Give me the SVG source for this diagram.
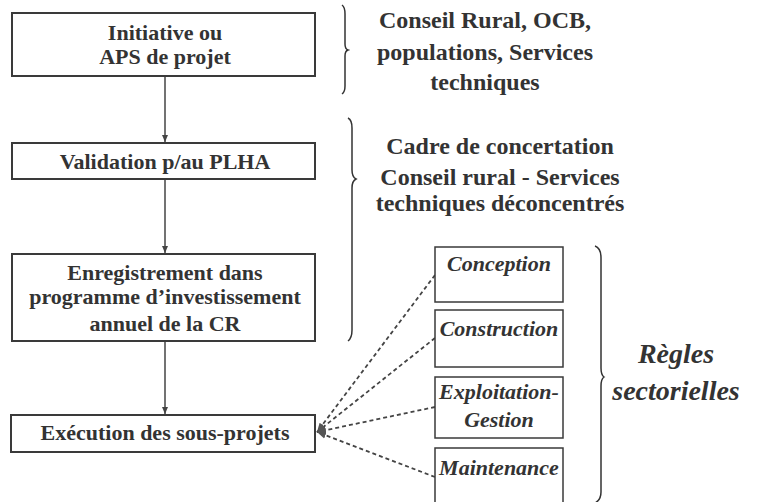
<svg xmlns="http://www.w3.org/2000/svg" width="758" height="502" viewBox="0 0 758 502">
<defs>
<style>
.box{fill:#fff;stroke:#3a3a3a;stroke-width:2}
.sbox{fill:#fff;stroke:#3a3a3a;stroke-width:1.5}
.t{font-family:"Liberation Serif","Times New Roman",serif;font-weight:bold;fill:#333;text-anchor:middle}
.m{font-size:22px}
.r{font-size:24px}
.s{font-size:22px}
.i{font-style:italic}
.ln{stroke:#444;stroke-width:1.5;fill:none}
.dl{stroke:#444;stroke-width:1.8;fill:none;stroke-dasharray:4 3}
.br{stroke:#333;stroke-width:1.5;fill:none}
</style>
<marker id="ah" markerWidth="8" markerHeight="8" refX="7" refY="4" orient="auto" markerUnits="userSpaceOnUse">
<path d="M0,1 L7,4 L0,7 Z" fill="#444"/>
</marker>
<marker id="dh" markerWidth="10" markerHeight="10" refX="9" refY="5" orient="auto" markerUnits="userSpaceOnUse">
<path d="M0,1.5 L9,5 L0,8.5 Z" fill="#555"/>
</marker>
</defs>
<rect width="758" height="502" fill="#fff"/>
<g id="connectors">
<line class="ln" x1="165" y1="76" x2="165" y2="142" marker-end="url(#ah)"/>
<line class="ln" x1="165" y1="179" x2="165" y2="253" marker-end="url(#ah)"/>
<line class="ln" x1="165" y1="341" x2="165" y2="414" marker-end="url(#ah)"/>
<line class="dl" x1="435" y1="275" x2="317" y2="432" marker-end="url(#dh)"/>
<line class="dl" x1="435" y1="338" x2="317" y2="432" marker-end="url(#dh)"/>
<line class="dl" x1="435" y1="407" x2="317" y2="432" marker-end="url(#dh)"/>
<line class="dl" x1="435" y1="477" x2="317" y2="432" marker-end="url(#dh)"/>
</g>
<g id="n1"><rect class="box" x="12" y="13" width="303" height="63"/>
<text class="t m" x="165" y="40">Initiative ou</text>
<text class="t m" x="165" y="64">APS de projet</text></g>
<g id="n2"><rect class="box" x="12" y="143" width="303" height="36"/>
<text class="t m" x="165" y="169">Validation p/au PLHA</text></g>
<g id="n3"><rect class="box" x="12" y="254" width="303" height="87"/>
<text class="t m" x="165" y="280">Enregistrement dans</text>
<text class="t m" x="165" y="304">programme d’investissement</text>
<text class="t m" x="165" y="331">annuel de la CR</text></g>
<g id="n4"><rect class="box" x="11" y="415" width="304" height="37"/>
<text class="t m" x="165" y="440">Exécution des sous-projets</text></g>
<g id="n5"><rect class="sbox" x="435" y="247" width="128" height="55"/>
<text class="t s i" x="499" y="271">Conception</text></g>
<g id="n6"><rect class="sbox" x="435" y="310" width="128" height="57"/>
<text class="t s i" x="499" y="336">Construction</text></g>
<g id="n7"><rect class="sbox" x="435" y="377" width="128" height="61"/>
<text class="t s i" x="499" y="399">Exploitation-</text>
<text class="t s i" x="499" y="427">Gestion</text></g>
<g id="n8"><rect class="sbox" x="435" y="448" width="128" height="60"/>
<text class="t s i" x="499" y="475">Maintenance</text></g>
<g id="braces">
<path class="br" d="M342,5 Q345,7 345,14 L345,44 Q345,49 348,50 Q345,51 345,56 L345,86 Q345,92 342,94"/>
<path class="br" d="M348,118 Q352,120 352,128 L352,170 Q352,177 356,179 Q352,181 352,188 L352,330 Q352,338 348,341"/>
<path class="br" d="M595,246 Q601,248 601,258 L601,368 Q601,375 604,377 Q601,379 601,386 L601,492 Q601,500 595,503"/>
</g>
<g id="labels">
<text class="t r" x="485" y="28">Conseil Rural, OCB,</text>
<text class="t r" x="485" y="60">populations, Services</text>
<text class="t r" x="485" y="90">techniques</text>
<text class="t r" x="500" y="154">Cadre de concertation</text>
<text class="t r" x="500" y="185">Conseil rural - Services</text>
<text class="t r" x="500" y="211">techniques déconcentrés</text>
<text class="t i" style="font-size:28px" x="676" y="363">Règles</text>
<text class="t i" style="font-size:28px" x="676" y="400">sectorielles</text>
</g>
</svg>
